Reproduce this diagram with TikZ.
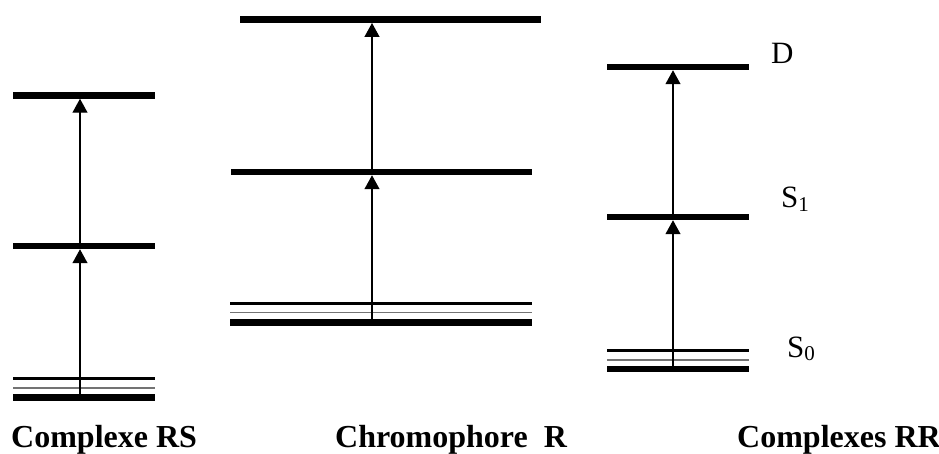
\documentclass[tikz,border=0pt]{standalone}
\usepackage{fontspec}
\setmainfont{Liberation Serif}
\usetikzlibrary{arrows.meta}
\begin{document}
\begin{tikzpicture}[x=1pt,y=-1pt,
  lvl/.style={fill=black,inner sep=0pt,outer sep=0pt,minimum height=6.5pt},
  lvlmid/.style={fill=black,inner sep=0pt,outer sep=0pt,minimum height=3.5pt},
  lvlthin/.style={fill=black!55,inner sep=0pt,outer sep=0pt,minimum height=1.3pt},
  arr/.style={line width=1.3pt,-{Triangle[length=14pt,width=15pt]}},
  captext/.style={font=\fontsize{32}{32}\selectfont\bfseries,inner sep=0pt,anchor=base west},
  lab/.style={font=\fontsize{31}{31}\selectfont,inner sep=0pt,anchor=base west}]
\useasboundingbox (0,0) rectangle (939,454);
\newcommand{\sub}[1]{\raisebox{-0.12em}{\fontsize{21}{21}\selectfont #1}}
% ---- left: Complexe RS
\node[lvl,minimum width=142pt] (a3) at (84,95.5) {};
\node[lvl,minimum width=142pt] (a2) at (84,246) {};
\node[lvlmid,minimum width=142pt] (a1) at (84,378.5) {};
\node[lvlthin,minimum width=142pt] (a1t) at (84,388) {};
\node[lvl,minimum width=142pt,minimum height=6.8pt] (a0) at (84,397.3) {};
\coordinate (ax) at (80,0);
\draw[arr] (ax |- a0.center) -- (ax |- a2.south);
\draw[arr] (ax |- a2.center) -- (ax |- a3.south);
% ---- middle: Chromophore R
\node[lvl,minimum width=301pt,minimum height=7pt] (b3) at (390.5,19.5) {};
\node[lvl,minimum width=301pt] (b2) at (381.5,172) {};
\node[lvlmid,minimum width=302pt] (b1) at (381,303.5) {};
\node[lvlthin,minimum width=302pt] (b1t) at (381,312.7) {};
\node[lvl,minimum width=302pt,minimum height=7pt] (b0) at (381,322.5) {};
\coordinate (bx) at (372,0);
\draw[arr] (bx |- b0.center) -- (bx |- b2.south);
\draw[arr] (bx |- b2.center) -- (bx |- b3.south);
% ---- right: Complexes RR
\node[lvl,minimum width=142pt] (c3) at (678,67) {};
\node[lvl,minimum width=142pt] (c2) at (678,217) {};
\node[lvlmid,minimum width=142pt] (c1) at (678,350.3) {};
\node[lvlthin,minimum width=142pt] (c1t) at (678,360) {};
\node[lvl,minimum width=142pt,minimum height=6.8pt] (c0) at (678,369) {};
\coordinate (cx) at (673,0);
\draw[arr] (cx |- c0.center) -- (cx |- c2.south);
\draw[arr] (cx |- c2.center) -- (cx |- c3.south);
% ---- level labels
\node[lab] (lD) at (771,64) {D};
\node[lab] (lS1) at (781,208) {S\sub{1}};
\node[lab] (lS0) at (787,357) {S\sub{0}};
% ---- captions
\node[captext] (t1) at (11,447) {Complexe RS};
\node[captext] (t2) at (335,447) {Chromophore\ \ R};
\node[captext] (t3) at (737,447) {Complexes RR};
\end{tikzpicture}
\end{document}
